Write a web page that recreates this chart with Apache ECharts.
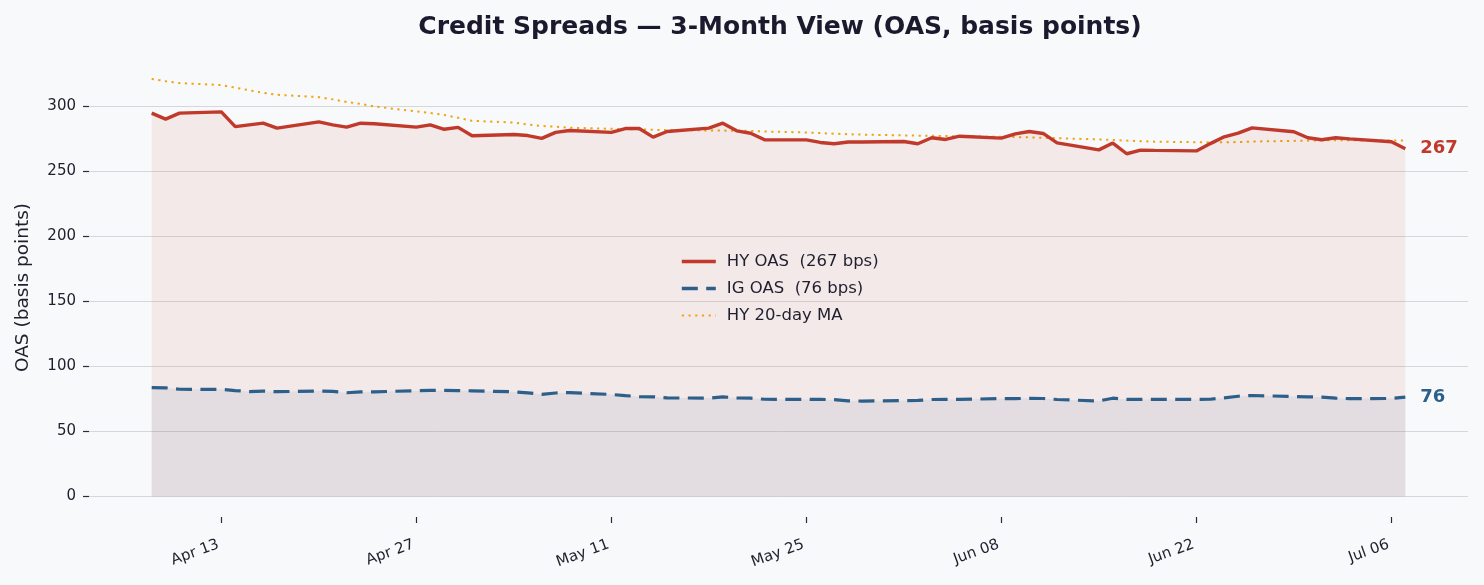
<!DOCTYPE html>
<html>
<head>
<meta charset="utf-8">
<title>Credit Spreads</title>
<script src="https://cdn.jsdelivr.net/npm/echarts@6/dist/echarts.min.js"></script>
<style>
  html, body { margin: 0; padding: 0; background: #f8f9fa; }
  #chart { width: 1484px; height: 585px; }
</style>
</head>
<body>
<div id="chart"></div>
<script>
// business days, Apr 8 - Jul 7
const dates = [
  '2026-04-08', '2026-04-09', '2026-04-10',
  '2026-04-13', '2026-04-14', '2026-04-15', '2026-04-16', '2026-04-17',
  '2026-04-20', '2026-04-21', '2026-04-22', '2026-04-23', '2026-04-24',
  '2026-04-27', '2026-04-28', '2026-04-29', '2026-04-30', '2026-05-01',
  '2026-05-04', '2026-05-05', '2026-05-06', '2026-05-07', '2026-05-08',
  '2026-05-11', '2026-05-12', '2026-05-13', '2026-05-14', '2026-05-15',
  '2026-05-18', '2026-05-19', '2026-05-20', '2026-05-21', '2026-05-22',
  '2026-05-25', '2026-05-26', '2026-05-27', '2026-05-28', '2026-05-29',
  '2026-06-01', '2026-06-02', '2026-06-03', '2026-06-04', '2026-06-05',
  '2026-06-08', '2026-06-09', '2026-06-10', '2026-06-11', '2026-06-12',
  '2026-06-15', '2026-06-16', '2026-06-17', '2026-06-18', '2026-06-19',
  '2026-06-22', '2026-06-23', '2026-06-24', '2026-06-25', '2026-06-26',
  '2026-06-29', '2026-06-30', '2026-07-01', '2026-07-02', '2026-07-03',
  '2026-07-06', '2026-07-07'
];

const hyOas = [
  294.4, 289.8, 294.4,
  295.4, 284.1, 285.4, 286.7, 282.9,
  287.7, 285.4, 283.7, 286.7, 286.3,
  283.7, 285.4, 282.0, 283.5, 277.0,
  278.0, 277.2, 275.0, 279.6, 281.1,
  279.6, 282.6, 282.6, 276.0, 280.3,
  282.9, 286.7, 280.8, 279.0, 273.9,
  273.9, 271.9, 270.9, 272.2, 272.2,
  272.6, 270.9, 275.5, 274.2, 276.7,
  275.2, 278.5, 280.3, 278.8, 271.6,
  266.2, 271.4, 263.2, 266.0, 265.8,
  265.4, 271.0, 276.2, 279.0, 283.1,
  280.1, 275.5, 274.0, 275.5, 274.6,
  272.4, 267.0
];

const igOas = [
  83.4, 83.3, 82.2,
  82.1, 81.2, 80.4, 80.8, 80.3,
  80.8, 80.5, 79.5, 80.1, 80.2,
  81.1, 81.3, 81.3, 81.2, 81.0,
  80.2, 79.4, 78.3, 79.3, 79.6,
  78.2, 77.3, 76.5, 76.4, 75.5,
  75.4, 76.3, 75.6, 75.3, 74.5,
  74.4, 74.4, 74.2, 73.3, 73.1,
  73.5, 73.6, 74.3, 74.4, 74.4,
  75.0, 75.0, 75.2, 75.1, 74.3,
  73.2, 75.3, 74.4, 74.4, 74.4,
  74.4, 74.5, 75.6, 76.8, 77.4,
  76.6, 76.4, 76.2, 75.3, 75.0,
  75.1, 76.2
];

const hyMa20 = [
  320.7, 319.0, 317.5,
  316.0, 314.0, 312.0, 310.0, 308.5,
  306.7, 305.0, 303.0, 301.5, 299.5,
  295.8, 294.5, 293.0, 290.8, 288.5,
  287.2, 285.6, 284.6, 284.0, 283.2,
  282.4, 282.2, 281.9, 281.6, 281.4,
  281.1, 281.0, 280.9, 280.8, 280.3,
  279.6, 279.1, 278.6, 278.2, 277.9,
  277.3, 277.1, 277.0, 276.8, 276.6,
  276.2, 276.0, 275.8, 275.5, 275.2,
  274.2, 273.8, 273.3, 272.9, 272.5,
  272.1, 272.0, 272.0, 272.2, 272.6,
  273.1, 273.3, 273.5, 273.6, 273.5,
  273.4, 273.3
];

const seriesNames = ['HY OAS  (267 bps)', 'IG OAS  (76 bps)', 'HY 20-day MA'];
const tickDates = ['2026-04-13', '2026-04-27', '2026-05-11', '2026-05-25', '2026-06-08', '2026-06-22', '2026-07-06'];
const tickLabels = ['Apr 13', 'Apr 27', 'May 11', 'May 25', 'Jun 08', 'Jun 22', 'Jul 06'];
const yTicks = [0, 50, 100, 150, 200, 250, 300];

const FONT = 'DejaVu Sans';
const INK = '#1f1f2e';
const RED = '#c0392b';
const BLUE = '#2c5f8a';
const ORANGE = '#f2a30f';

// x axis works in whole days counted from the first date
function dayNum(s) {
  const p = s.split('-').map(Number);
  return Math.round(Date.UTC(p[0], p[1] - 1, p[2]) / 86400000);
}
const day0 = dayNum(dates[0]);
const xs = dates.map(d => dayNum(d) - day0);
const tickXs = tickDates.map(d => dayNum(d) - day0);

const chart = echarts.init(document.getElementById('chart'), null, { renderer: 'canvas' });

function endLabel(color) {
  return {
    show: true,
    distance: 15,
    formatter: p => Math.round(p.value[1]),
    fontFamily: FONT,
    fontSize: 18,
    fontWeight: 'bold',
    color: color
  };
}

const option = {
  backgroundColor: '#f8f9fa',
  animation: false,
  title: {
    text: 'Credit Spreads \u2014 3-Month View (OAS, basis points)',
    left: 775,
    top: 10,
    textAlign: 'center',
    textStyle: { fontFamily: FONT, fontSize: 25, fontWeight: 'bold', color: '#1a1a2e' }
  },
  legend: {
    orient: 'vertical',
    left: 680,
    top: 253,
    padding: 0,
    itemWidth: 34,
    itemHeight: 14,
    itemGap: 10,
    data: [
      { name: seriesNames[0], lineStyle: { width: 3.6 } },
      { name: seriesNames[1], lineStyle: { width: 3.6 } },
      { name: seriesNames[2], lineStyle: { width: 2 } }
    ],
    itemStyle: { opacity: 0 },
    textStyle: { fontFamily: FONT, fontSize: 16.5, color: INK, padding: [0, 0, 0, 6] }
  },
  grid: { left: 89, right: 16, top: 58, bottom: 68 },
  xAxis: {
    type: 'value',
    min: -4.5,
    max: 94.5,
    axisLine: { show: false, onZero: false },
    axisTick: { show: true, length: 6, customValues: tickXs, lineStyle: { color: '#2b2b3b', width: 1.2 } },
    splitLine: { show: false },
    axisLabel: {
      customValues: tickXs,
      rotate: 20,
      margin: 26,
      padding: [0, 3, 0, 0],
      fontFamily: FONT,
      fontSize: 15,
      color: INK,
      formatter: function (v) {
        const i = tickXs.indexOf(v);
        return i >= 0 ? tickLabels[i] : '';
      }
    }
  },
  yAxis: {
    type: 'value',
    min: -16,
    max: 336.8,
    name: 'OAS (basis points)',
    nameLocation: 'middle',
    nameGap: 56,
    nameTextStyle: { fontFamily: FONT, fontSize: 18.5, color: INK },
    axisLine: { show: false, onZero: false },
    axisTick: { show: true, length: 6, customValues: yTicks, lineStyle: { color: '#2b2b3b', width: 1.2 } },
    axisLabel: { customValues: yTicks, margin: 13, fontFamily: FONT, fontSize: 15, color: INK },
    splitLine: { show: true, lineStyle: { color: '#d6d6dc', width: 1 } }
  },
  series: [
    {
      name: seriesNames[0],
      type: 'line',
      z: 3,
      data: xs.map((x, i) => [x, hyOas[i]]),
      showSymbol: false,
      symbol: 'none',
      lineStyle: { color: RED, width: 3.4 },
      itemStyle: { color: RED },
      areaStyle: { color: RED, opacity: 0.08, origin: 0 },
      endLabel: endLabel(RED)
    },
    {
      name: seriesNames[1],
      type: 'line',
      z: 3,
      data: xs.map((x, i) => [x, igOas[i]]),
      showSymbol: false,
      symbol: 'none',
      lineStyle: { color: BLUE, width: 3.2, type: [16, 8.4] },
      itemStyle: { color: BLUE },
      areaStyle: { color: BLUE, opacity: 0.08, origin: 0 },
      endLabel: endLabel(BLUE)
    },
    {
      name: seriesNames[2],
      type: 'line',
      z: 2,
      data: xs.map((x, i) => [x, hyMa20[i]]),
      showSymbol: false,
      symbol: 'none',
      lineStyle: { color: ORANGE, width: 2, type: [2.2, 4.5] },
      itemStyle: { color: ORANGE }
    }
  ]
};

chart.setOption(option);
</script>
</body>
</html>
